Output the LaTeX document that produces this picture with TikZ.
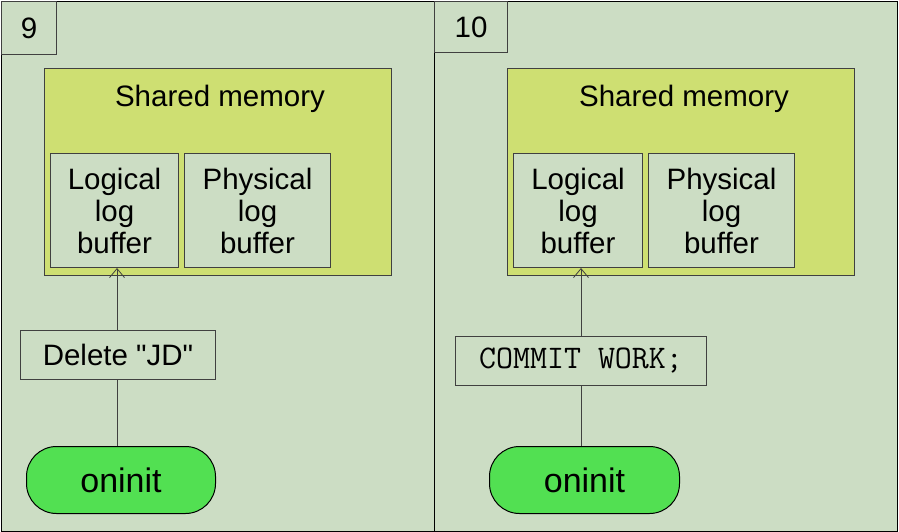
\documentclass[tikz,border=0pt]{standalone}
\usepackage{fontspec}
\setmainfont{Liberation Sans}
\newfontfamily\rawsans{Liberation Sans}
\newfontfamily\cmdmono{Latin Modern Mono}
\usetikzlibrary{arrows.meta}
\definecolor{panelbg}{HTML}{CCDDC4}
\definecolor{shmem}{HTML}{CEDF72}
\definecolor{procgreen}{HTML}{52E052}
\definecolor{edgegray}{HTML}{404040}
\begin{document}
\begin{tikzpicture}[x=1pt,y=-1pt,
  panel/.style={draw=black, line width=1.3pt, fill=panelbg, anchor=north west, inner sep=0pt},
  tagbox/.style={draw=edgegray, line width=1pt, fill=panelbg, anchor=north west, inner sep=0pt, font=\fontsize{29.5}{32}\selectfont},
  membox/.style={draw=edgegray, line width=1pt, fill=shmem, anchor=north west, inner sep=0pt, minimum width=347, minimum height=207},
  bufbox/.style={draw=edgegray, line width=1pt, fill=panelbg, anchor=north west, inner sep=0pt, minimum height=114, align=center, font=\fontsize{29.5}{32}\selectfont},
  cmdbox/.style={draw=edgegray, line width=1pt, fill=panelbg, anchor=north west, inner sep=0pt, minimum height=49, font=\fontsize{29.5}{32}\selectfont},
  proc/.style={draw=black, line width=1pt, fill=procgreen, anchor=north west, inner sep=0pt, rounded corners=30pt, minimum height=67, font=\fontsize{34}{36}\selectfont},
  lbl/.style={font=\fontsize{29.5}{32}\selectfont, inner sep=0pt},
  conn/.style={draw=edgegray, line width=0.8pt},
  arr/.style={conn, -{Straight Barb[length=9pt,width=15pt,line width=0.8pt]}}
]
\useasboundingbox (0,0) rectangle (899,532);
% panels
\node[panel, minimum width=433, minimum height=530] (p9) at (1,1) {};
\node[panel, minimum width=463, minimum height=530] (p10) at (434,1) {};
\node[tagbox, minimum width=55, minimum height=53] (t9) at (1,1) {9};
\node[tagbox, minimum width=73, minimum height=51] (t10) at (434,1) {10};
% left panel
\node[membox] (m9) at (44,68) {};
\node[lbl] (sm9) at (220,99) {Shared memory};
\node[bufbox, minimum width=128] (l9) at (50,153) {Logical\\log\\buffer};
\node[bufbox, minimum width=146] (ph9) at (184,153) {Physical\\log\\buffer};
\node[cmdbox, minimum width=195, font=\rawsans\fontsize{29.5}{32}\selectfont] (d9) at (20,330) {Delete "JD"};
\node[proc, minimum width=189] (o9) at (26,446) {oninit};
\draw[conn] (o9.north -| 117,0) -- (d9.south -| 117,0);
\draw[arr] (d9.north -| 117,0) -- (l9.south -| 117,0);
% right panel
\node[membox] (m10) at (507,68) {};
\node[lbl] (sm10) at (684,99) {Shared memory};
\node[bufbox, minimum width=129] (l10) at (513,153) {Logical\\log\\buffer};
\node[bufbox, minimum width=146] (ph10) at (648,153) {Physical\\log\\buffer};
\node[cmdbox, minimum width=251, font=\cmdmono\fontsize{33}{34}\selectfont] (c10) at (455,336) {COMMIT WORK;};
\node[proc, minimum width=190] (o10) at (489,446) {oninit};
\draw[conn] (o10.north -| 581,0) -- (c10.south -| 581,0);
\draw[arr] (c10.north -| 581,0) -- (l10.south -| 581,0);
\end{tikzpicture}
\end{document}
